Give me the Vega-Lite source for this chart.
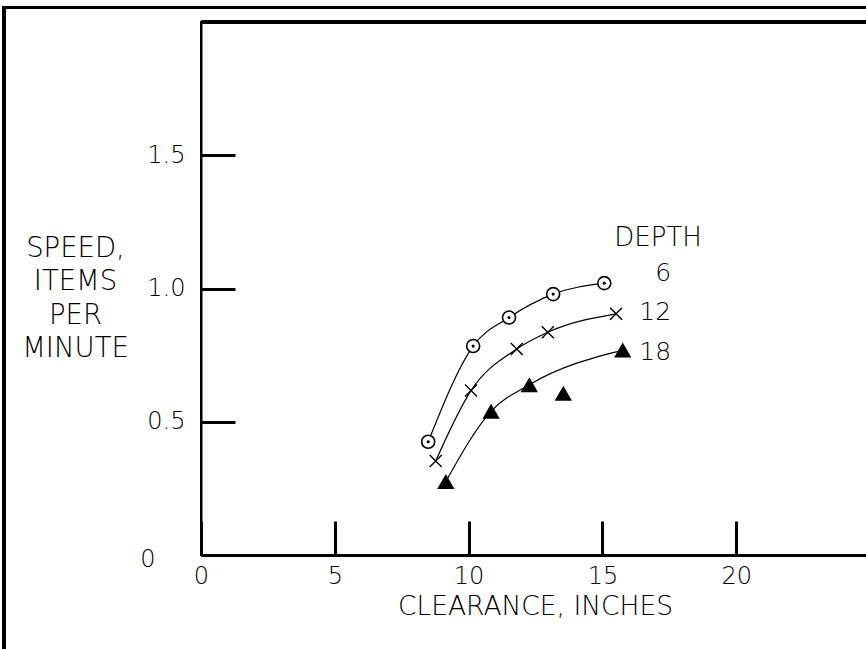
{
  "$schema": "https://vega.github.io/schema/vega-lite/v6.json",
  "autosize": {"type": "none"},
  "padding": {"left": 201, "top": 22, "right": 0, "bottom": 94},
  "width": 669,
  "height": 533,
  "background": "white",
  "config": {
    "view": {"stroke": "black", "strokeWidth": 2},
    "font": "DejaVu Sans",
    "axis": {"grid": false, "labelColor": "black", "titleColor": "black", "domainColor": "black", "tickColor": "black", "labelFont": "DejaVu Sans", "titleFont": "DejaVu Sans", "labelFontWeight": 200, "titleFontWeight": 200}
  },
  "datasets": {
    "pts": [
      {"series": "6", "x": 8.49, "y": 0.425, "outlier": false},
      {"series": "6", "x": 10.17, "y": 0.784, "outlier": false},
      {"series": "6", "x": 11.51, "y": 0.891, "outlier": false},
      {"series": "6", "x": 13.16, "y": 0.979, "outlier": false},
      {"series": "6", "x": 15.07, "y": 1.02, "outlier": false},
      {"series": "12", "x": 8.77, "y": 0.353, "outlier": false},
      {"series": "12", "x": 10.09, "y": 0.617, "outlier": false},
      {"series": "12", "x": 11.8, "y": 0.773, "outlier": false},
      {"series": "12", "x": 12.96, "y": 0.836, "outlier": false},
      {"series": "12", "x": 15.51, "y": 0.905, "outlier": false},
      {"series": "18", "x": 9.15, "y": 0.276, "outlier": false},
      {"series": "18", "x": 10.84, "y": 0.539, "outlier": false},
      {"series": "18", "x": 12.27, "y": 0.639, "outlier": false},
      {"series": "18", "x": 13.54, "y": 0.607, "outlier": true},
      {"series": "18", "x": 15.76, "y": 0.769, "outlier": false}
    ],
    "notes": [
      {"label": "DEPTH", "x": 17.08, "y": 1.19, "kind": "head"},
      {"label": "6", "x": 17.57, "y": 1.06, "kind": "num"},
      {"label": "12", "x": 17.57, "y": 0.91, "kind": "num"},
      {"label": "18", "x": 17.57, "y": 0.763, "kind": "num"}
    ]
  },
  "data": {"name": "pts"},
  "encoding": {
    "x": {
      "field": "x", "type": "quantitative",
      "scale": {"domain": [0, 25], "nice": false, "zero": false},
      "axis": {
        "orient": "bottom",
        "values": [0, 5, 10, 15, 20],
        "tickSize": -34, "tickWidth": 3, "domainWidth": 3,
        "labelFontSize": 24, "labelPadding": 43, "labelFlush": false, "labelOverlap": false,
        "title": "CLEARANCE, INCHES", "titleFontSize": 26.5,
        "titleX": 334, "titleY": 59, "titleBaseline": "alphabetic", "titleAnchor": "middle"
      }
    },
    "y": {
      "field": "y", "type": "quantitative",
      "scale": {"domain": [0, 2], "nice": false, "zero": false},
      "axis": {
        "orient": "left",
        "values": [0, 0.5, 1, 1.5],
        "tickSize": -34, "tickWidth": 3, "domainWidth": 2,
        "labelFontSize": 24,
        "labelExpr": "datum.value === 0 ? '0' : format(datum.value, '.1f')",
        "labelPadding": {"condition": {"test": "datum.value === 0", "value": 80}, "value": 50},
        "labelOffset": {"condition": {"test": "datum.value === 0", "value": 4}, "value": 0},
        "labelFlush": false, "labelOverlap": false,
        "title": ["SPEED,", "ITEMS", "PER", "MINUTE"],
        "titleFontSize": 27.5, "titleAngle": 0, "titleAlign": "center",
        "titleBaseline": "alphabetic", "titleLineHeight": 33.5,
        "titleX": -126, "titleY": 234
      }
    }
  },
  "layer": [
    {
      "mark": {"type": "rule", "stroke": "black", "strokeWidth": 3, "clip": false},
      "encoding": {"x": {"datum": -7.36}, "y": {"datum": 2.054}, "y2": {"datum": -0.5}}
    },
    {
      "mark": {"type": "rule", "stroke": "black", "strokeWidth": 3, "clip": false},
      "encoding": {"y": {"datum": 2.054}, "x": {"datum": -7.42}, "x2": {"datum": 26}}
    },
    {
      "mark": {"type": "rule", "stroke": "black", "strokeWidth": 3},
      "encoding": {"y": {"datum": 2}, "x": {"datum": 0}, "x2": {"datum": 25}}
    },
    {
      "transform": [{"filter": "!datum.outlier"}],
      "mark": {"type": "line", "stroke": "black", "strokeWidth": 1.2, "interpolate": "monotone"},
      "encoding": {"detail": {"field": "series"}}
    },
    {
      "transform": [{"filter": "datum.series === '6'"}],
      "mark": {"type": "point", "shape": "circle", "size": 169, "filled": true, "fill": "white", "stroke": "black", "strokeWidth": 1.6, "opacity": 1}
    },
    {
      "transform": [{"filter": "datum.series === '6'"}],
      "mark": {"type": "point", "shape": "circle", "size": 10, "filled": true, "fill": "black", "opacity": 1}
    },
    {
      "transform": [{"filter": "datum.series === '12'"}],
      "mark": {"type": "point", "shape": "M-1,-1L1,1M1,-1L-1,1", "size": 144, "filled": false, "stroke": "black", "strokeWidth": 1.4, "opacity": 1}
    },
    {
      "transform": [{"filter": "datum.series === '18'"}],
      "mark": {"type": "point", "shape": "triangle-up", "size": 300, "filled": true, "fill": "black", "opacity": 1}
    },
    {
      "data": {"name": "notes"},
      "transform": [{"filter": "datum.kind === 'head'"}],
      "mark": {"type": "text", "align": "center", "baseline": "middle", "fontSize": 26, "fontWeight": 200, "font": "DejaVu Sans", "color": "black"},
      "encoding": {"text": {"field": "label"}}
    },
    {
      "data": {"name": "notes"},
      "transform": [{"filter": "datum.kind === 'num'"}],
      "mark": {"type": "text", "align": "right", "baseline": "middle", "fontSize": 25, "fontWeight": 200, "font": "DejaVu Sans", "color": "black"},
      "encoding": {"text": {"field": "label"}}
    }
  ]
}
